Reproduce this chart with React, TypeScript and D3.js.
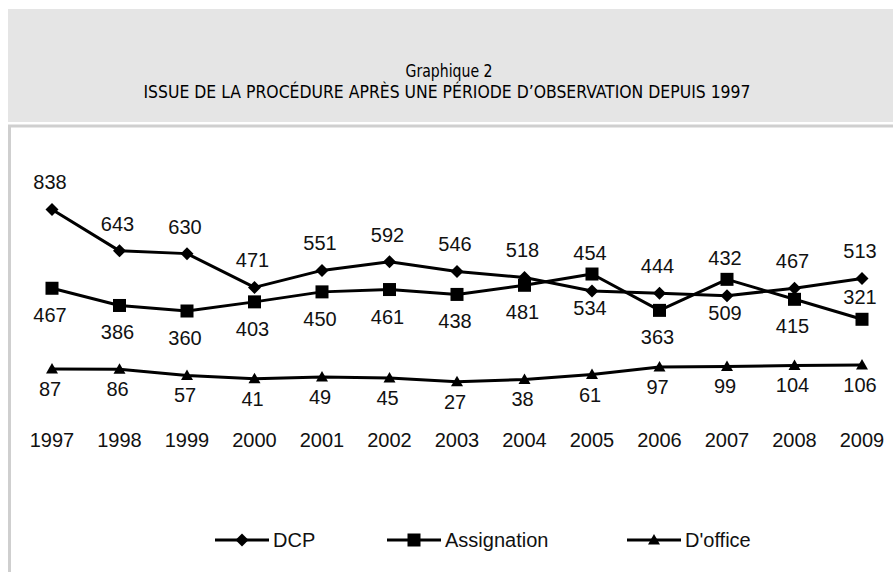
import React from "react";
import * as d3 from "d3";

const years = ["1997","1998","1999","2000","2001","2002","2003","2004","2005","2006","2007","2008","2009"];
const dcp = [838, 643, 630, 471, 551, 592, 546, 518, 454, 444, 432, 467, 513];
const assignation = [467, 386, 360, 403, 450, 461, 438, 481, 534, 363, 509, 415, 321];
const doffice = [87, 86, 57, 41, 49, 45, 27, 38, 61, 97, 99, 104, 106];
const seriesNames = ["DCP", "Assignation", "D'office"];
const assignationLabelSide = ["below","below","below","below","below","below","below","below","below","below","below","below","above"];
const titleLine1 = "Graphique 2";
const titleLine2 = "ISSUE DE LA PROCÉDURE APRÈS UNE PÉRIODE D’OBSERVATION DEPUIS 1997";

const W = 893, H = 572;
const FONT = "'Liberation Sans', Arial, sans-serif";
const TFONT = "'DejaVu Sans Condensed', 'DejaVu Sans', sans-serif";

function Marker({ kind, x, y }: { kind: string; x: number; y: number }) {
  if (kind === "diamond") {
    const s = 6.5;
    return <path d={`M${x},${y - s}L${x + s},${y}L${x},${y + s}L${x - s},${y}Z`} fill="#000" />;
  }
  if (kind === "square") {
    const s = 6.5;
    return <rect x={x - s} y={y - s} width={2 * s} height={2 * s} fill="#000" />;
  }
  const s = 6;
  return <path d={`M${x},${y - s}L${x + s},${y + 4.5}L${x - s},${y + 4.5}Z`} fill="#000" />;
}

export default function App() {
  const x = d3.scalePoint<string>().domain(years).range([52, 862]);
  const y = d3.scaleLinear().domain([0, 900]).range([387.5, 196.25]);
  const line = d3.line<number>().x((_, i) => x(years[i])!).y((v) => y(v));

  // label baselines: DCP above (clearing a higher Assignation marker), Assignation below (clearing a lower DCP marker)
  const dcpLabelY = (i: number) => Math.min(y(dcp[i]) - 20, y(assignation[i]) - 14);
  const asgLabelY = (i: number) =>
    assignationLabelSide[i] === "above"
      ? y(assignation[i]) - 15
      : Math.max(y(assignation[i]) + 34, dcp[i] < assignation[i] ? y(dcp[i]) + 24 : 0);
  const dofLabelY = (i: number) => y(doffice[i]) + 27;

  const series = [
    { name: seriesNames[0], data: dcp, marker: "diamond", labelY: dcpLabelY },
    { name: seriesNames[1], data: assignation, marker: "square", labelY: asgLabelY },
    { name: seriesNames[2], data: doffice, marker: "triangle", labelY: dofLabelY },
  ];

  const legend = [
    { x0: 215, marker: "diamond", name: seriesNames[0] },
    { x0: 387, marker: "square", name: seriesNames[1] },
    { x0: 627, marker: "triangle", name: seriesNames[2] },
  ];

  return (
    <svg width={W} height={H} viewBox={`0 0 ${W} ${H}`} style={{ position: "absolute", left: 0, top: 0, background: "#fff" }}>
      <rect x={8} y={9} width={W - 8} height={113} fill="#e5e5e5" />
      <text x={449} y={77} textAnchor="middle" fontFamily={TFONT} fontSize={18} fill="#000" textLength={87} lengthAdjust="spacingAndGlyphs">{titleLine1}</text>
      <text x={447} y={98} textAnchor="middle" fontFamily={TFONT} fontSize={18} fill="#000" textLength={607} lengthAdjust="spacingAndGlyphs">{titleLine2}</text>
      <rect x={9.5} y={126} width={W} height={H} fill="none" stroke="#cfcfcf" strokeWidth={3} />

      {series.map((s) => (
        <g key={s.name}>
          <path d={line(s.data) || ""} fill="none" stroke="#000" strokeWidth={3} strokeLinejoin="round" />
          {s.data.map((v, i) => (
            <Marker key={i} kind={s.marker} x={x(years[i])!} y={y(v)} />
          ))}
          {s.data.map((v, i) => (
            <text key={"l" + i} x={x(years[i])! - 2} y={s.labelY(i)} textAnchor="middle" fontFamily={FONT} fontSize={20} fill="#111">{v}</text>
          ))}
        </g>
      ))}

      {years.map((yr) => (
        <text key={yr} x={x(yr)!} y={447} textAnchor="middle" fontFamily={FONT} fontSize={20} fill="#111">{yr}</text>
      ))}

      {legend.map((l) => (
        <g key={l.name}>
          <line x1={l.x0} x2={l.x0 + 54} y1={540} y2={540} stroke="#000" strokeWidth={3} />
          <Marker kind={l.marker} x={l.x0 + 27} y={540} />
          <text x={l.x0 + 58} y={547} fontFamily={FONT} fontSize={20} fill="#111">{l.name}</text>
        </g>
      ))}
    </svg>
  );
}
